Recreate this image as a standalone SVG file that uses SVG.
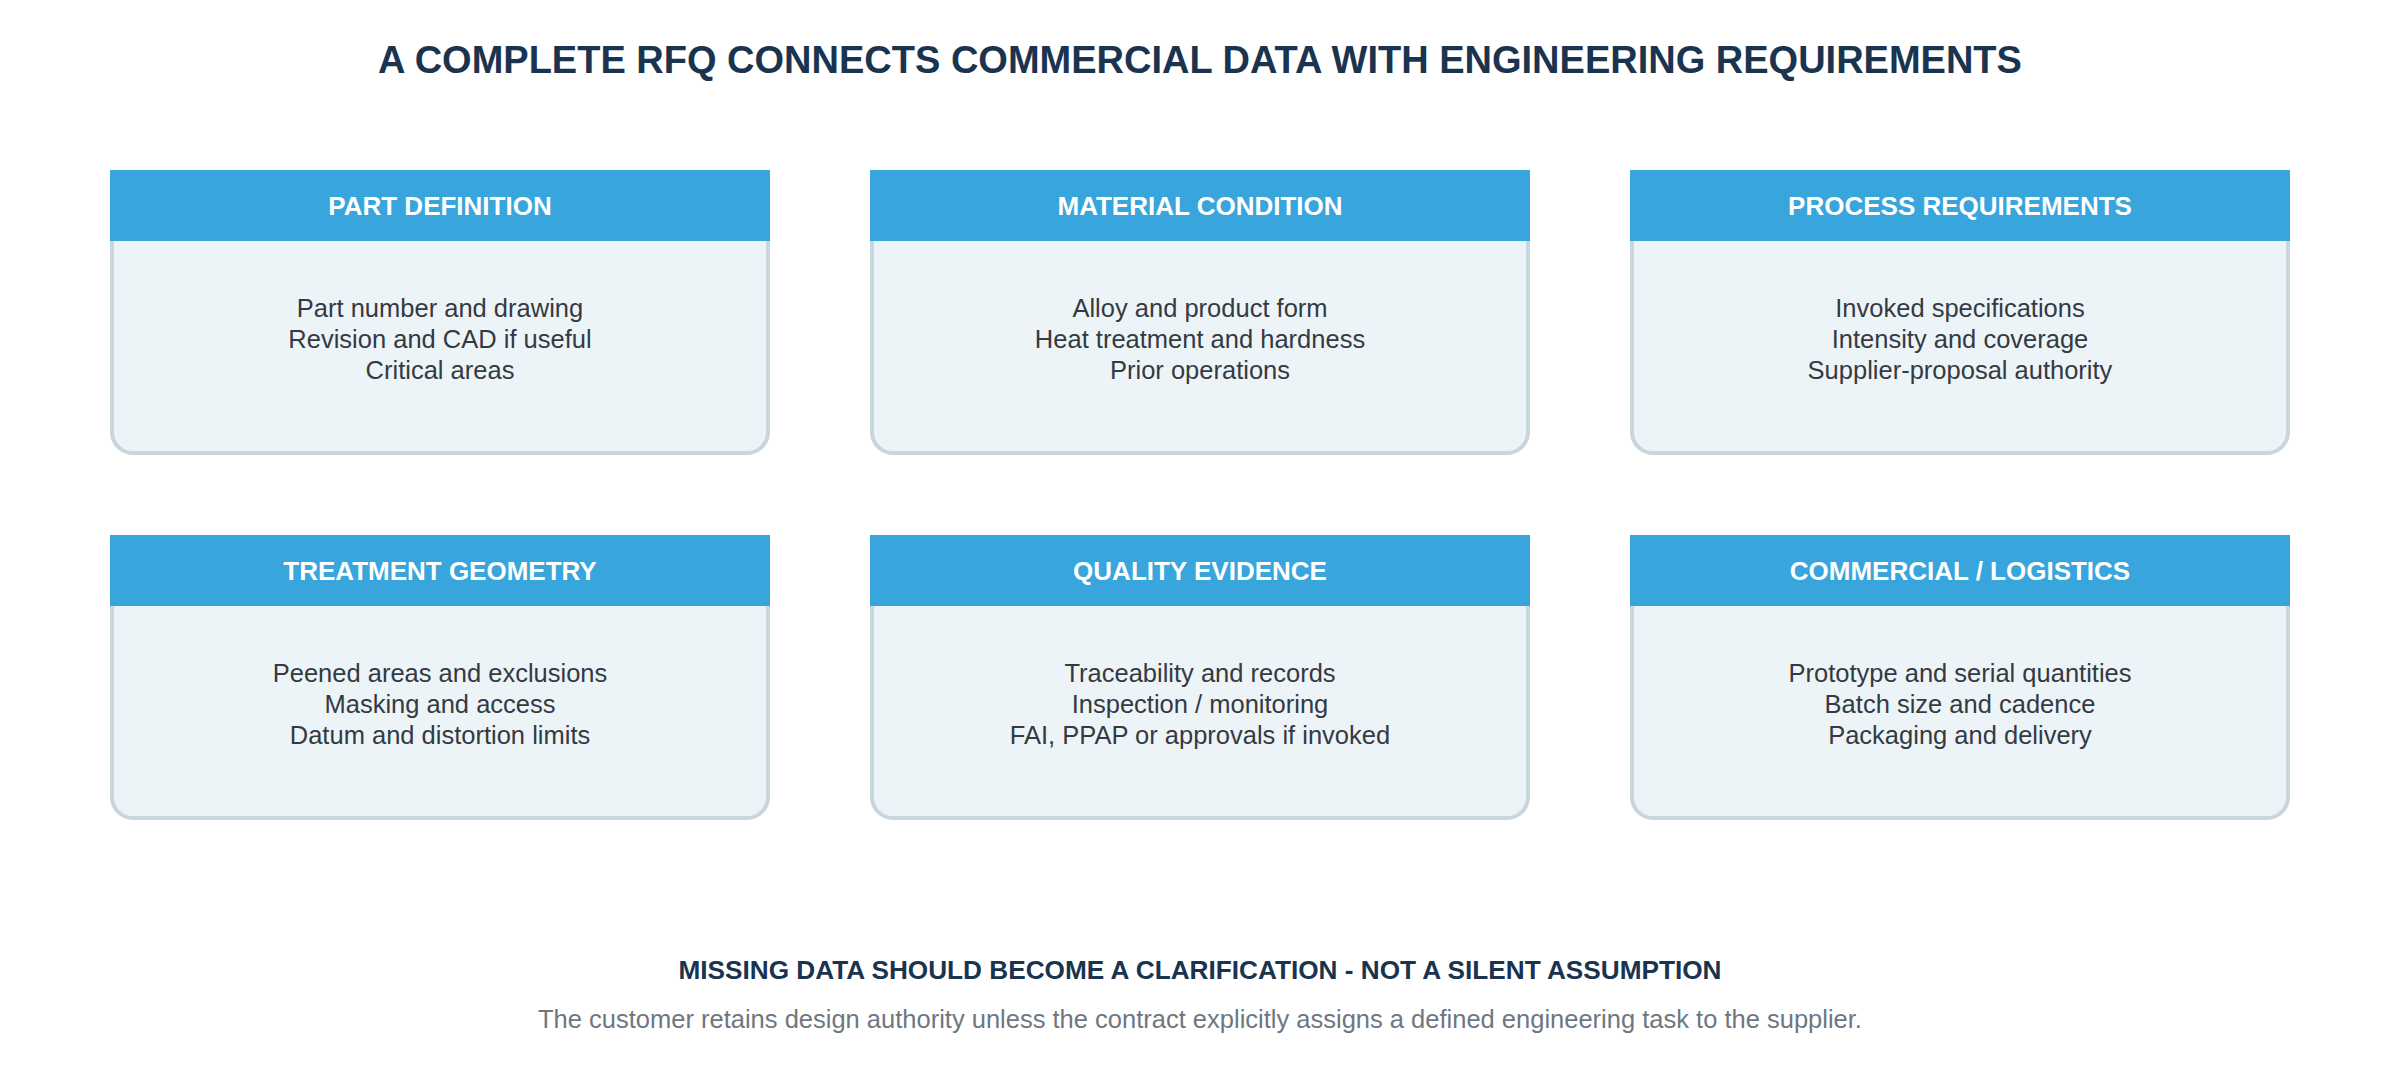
<svg xmlns="http://www.w3.org/2000/svg" width="2400" height="1080" viewBox="0 0 2400 1080">
<style>
.bg{fill:#ffffff}
.title{font-family:"Liberation Sans",Arial,sans-serif;font-weight:bold;font-size:38px;fill:#1A3450;text-anchor:middle}
.card{fill:#EDF4F8;stroke:#CAD6DE;stroke-width:4}
.hdr{fill:#38A5DC}
.htxt{font-family:"Liberation Sans",Arial,sans-serif;font-weight:bold;font-size:26px;fill:#ffffff;text-anchor:middle}
.btxt{font-family:"Liberation Sans",Arial,sans-serif;font-size:25.5px;fill:#343A42;text-anchor:middle}
.foot{font-family:"Liberation Sans",Arial,sans-serif;font-weight:bold;font-size:26.2px;fill:#1A3450;text-anchor:middle}
.sub{font-family:"Liberation Sans",Arial,sans-serif;font-size:25.5px;fill:#6E7781;text-anchor:middle}
</style>
<rect class="bg" x="0" y="0" width="2400" height="1080"/>
<text class="title" x="1200" y="73">A COMPLETE RFQ CONNECTS COMMERCIAL DATA WITH ENGINEERING REQUIREMENTS</text>

<g id="part-definition">
<rect class="card" x="112" y="172" width="656" height="281" rx="21"/>
<rect class="hdr" x="110" y="170" width="660" height="71"/>
<text class="htxt" x="440" y="215">PART DEFINITION</text>
<text class="btxt" x="440" y="317">Part number and drawing</text>
<text class="btxt" x="440" y="348">Revision and CAD if useful</text>
<text class="btxt" x="440" y="379">Critical areas</text>
</g>

<g id="material-condition">
<rect class="card" x="872" y="172" width="656" height="281" rx="21"/>
<rect class="hdr" x="870" y="170" width="660" height="71"/>
<text class="htxt" x="1200" y="215">MATERIAL CONDITION</text>
<text class="btxt" x="1200" y="317">Alloy and product form</text>
<text class="btxt" x="1200" y="348">Heat treatment and hardness</text>
<text class="btxt" x="1200" y="379">Prior operations</text>
</g>

<g id="process-requirements">
<rect class="card" x="1632" y="172" width="656" height="281" rx="21"/>
<rect class="hdr" x="1630" y="170" width="660" height="71"/>
<text class="htxt" x="1960" y="215">PROCESS REQUIREMENTS</text>
<text class="btxt" x="1960" y="317">Invoked specifications</text>
<text class="btxt" x="1960" y="348">Intensity and coverage</text>
<text class="btxt" x="1960" y="379">Supplier-proposal authority</text>
</g>

<g id="treatment-geometry">
<rect class="card" x="112" y="537" width="656" height="281" rx="21"/>
<rect class="hdr" x="110" y="535" width="660" height="71"/>
<text class="htxt" x="440" y="580">TREATMENT GEOMETRY</text>
<text class="btxt" x="440" y="682">Peened areas and exclusions</text>
<text class="btxt" x="440" y="713">Masking and access</text>
<text class="btxt" x="440" y="744">Datum and distortion limits</text>
</g>

<g id="quality-evidence">
<rect class="card" x="872" y="537" width="656" height="281" rx="21"/>
<rect class="hdr" x="870" y="535" width="660" height="71"/>
<text class="htxt" x="1200" y="580">QUALITY EVIDENCE</text>
<text class="btxt" x="1200" y="682">Traceability and records</text>
<text class="btxt" x="1200" y="713">Inspection / monitoring</text>
<text class="btxt" x="1200" y="744">FAI, PPAP or approvals if invoked</text>
</g>

<g id="commercial-logistics">
<rect class="card" x="1632" y="537" width="656" height="281" rx="21"/>
<rect class="hdr" x="1630" y="535" width="660" height="71"/>
<text class="htxt" x="1960" y="580">COMMERCIAL / LOGISTICS</text>
<text class="btxt" x="1960" y="682">Prototype and serial quantities</text>
<text class="btxt" x="1960" y="713">Batch size and cadence</text>
<text class="btxt" x="1960" y="744">Packaging and delivery</text>
</g>

<g id="connectors"></g>

<text class="foot" x="1200" y="979">MISSING DATA SHOULD BECOME A CLARIFICATION - NOT A SILENT ASSUMPTION</text>
<text class="sub" x="1200" y="1028">The customer retains design authority unless the contract explicitly assigns a defined engineering task to the supplier.</text>
</svg>
